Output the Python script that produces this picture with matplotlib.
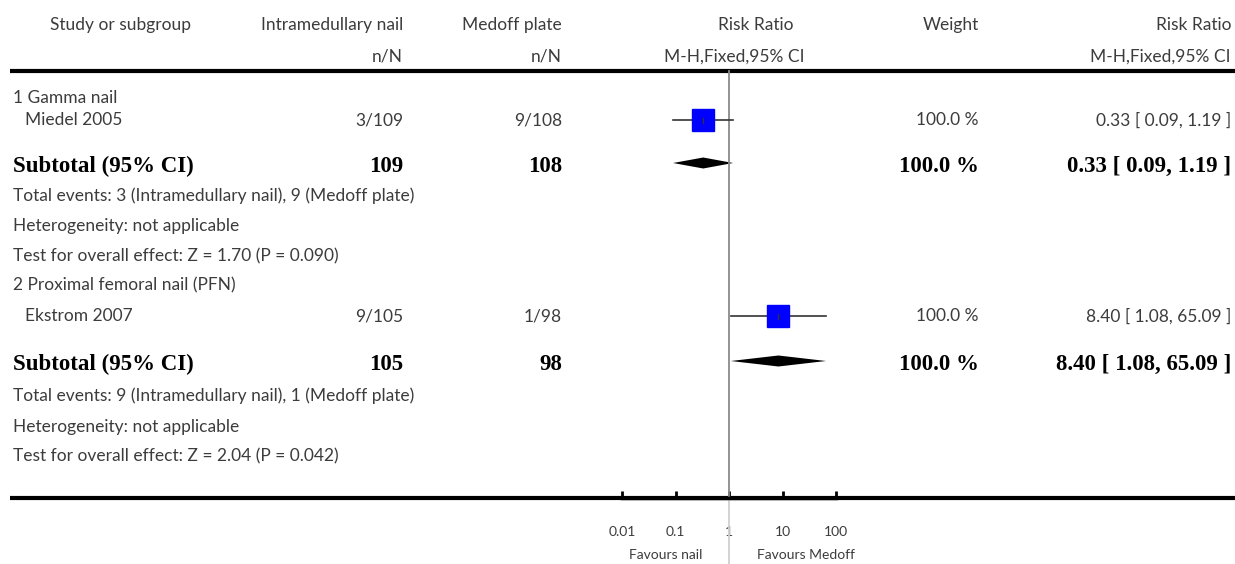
import matplotlib
matplotlib.use('Agg')
import matplotlib.pyplot as plt
from matplotlib.patches import Polygon

# data
groups = ['1 Gamma nail', '2 Proximal femoral nail (PFN)']
studies = ['Miedel 2005', 'Ekstrom 2007']
nail_events = [3, 9]
nail_total = [109, 105]
plate_events = [9, 1]
plate_total = [108, 98]
rr = [0.33, 8.40]
ci_low = [0.09, 1.08]
ci_high = [1.19, 65.09]
weights = [100.0, 100.0]
z_values = ['1.70', '2.04']
p_values = ['0.090', '0.042']
ticks = [0.01, 0.1, 1, 10, 100]
tick_labels = ['0.01', '0.1', '1', '10', '100']

W, H = 1235, 564
SANS = ['Lato', 'DejaVu Sans']
LIGHT = dict(family=SANS, weight='normal', color='#3c3c3c', fontsize=12.5)
BOLD = dict(family=['Liberation Serif', 'DejaVu Serif'], weight='bold', color='black', fontsize=16.5)

# row layout in pixels (y from top)
HEAD1, HEAD2, TOPLINE, BOTLINE = 25, 57, 71, 498
group_rows = [dict(title=98, study=120, sub=166, events=196, het=226, test=256),
              dict(title=285, study=316, sub=364, events=396, het=427, test=456)]
X_NAIL, X_PLATE, X_WEIGHT, X_RR = 403, 562, 979, 1231

fig = plt.figure(figsize=(W / 100, H / 100), dpi=100)
tax = fig.add_axes([0, 0, 1, 1])
tax.set_xlim(0, W)
tax.set_ylim(H, 0)
tax.axis('off')

fax = fig.add_axes([622 / W, 0, (836 - 622) / W, 1], zorder=2)
fax.patch.set_alpha(0)
fax.set_xscale('log')
fax.set_xlim(0.01, 100)
fax.set_ylim(H, 0)
for s in ['top', 'left', 'right']:
    fax.spines[s].set_visible(False)
fax.spines['bottom'].set_position(('data', BOTLINE))
fax.spines['bottom'].set_linewidth(2.5)
fax.set_yticks([])
fax.set_xticks(ticks)
fax.set_xticklabels(tick_labels, family=SANS, color='#3c3c3c')
fax.minorticks_off()
fax.tick_params(axis='x', direction='in', length=5, width=2, labelsize=10, pad=20)

# header
tax.text(50, HEAD1, 'Study or subgroup', ha='left', va='center', **LIGHT)
tax.text(X_NAIL, HEAD1, 'Intramedullary nail', ha='right', va='center', **LIGHT)
tax.text(X_NAIL, HEAD2, 'n/N', ha='right', va='center', **LIGHT)
tax.text(X_PLATE, HEAD1, 'Medoff plate', ha='right', va='center', **LIGHT)
tax.text(X_PLATE, HEAD2, 'n/N', ha='right', va='center', **LIGHT)
tax.text(793, HEAD1, 'Risk Ratio', ha='right', va='center', **LIGHT)
tax.text(804, HEAD2, 'M-H,Fixed,95% CI', ha='right', va='center', **LIGHT)
tax.text(X_WEIGHT, HEAD1, 'Weight', ha='right', va='center', **LIGHT)
tax.text(X_RR, HEAD1, 'Risk Ratio', ha='right', va='center', **LIGHT)
tax.text(X_RR, HEAD2, 'M-H,Fixed,95% CI', ha='right', va='center', **LIGHT)

tax.plot([10, W], [TOPLINE, TOPLINE], color='black', lw=3, solid_capstyle='butt')
tax.plot([10, W], [BOTLINE, BOTLINE], color='black', lw=3, solid_capstyle='butt')

# line of no effect
fax.plot([1, 1], [TOPLINE, BOTLINE], color='#8a8a8a', lw=1.3)
fax.plot([1, 1], [BOTLINE, H], color='#d0d0d0', lw=1.3)

for i, r in enumerate(group_rows):
    tax.text(13, r['title'], groups[i], ha='left', va='center', **LIGHT)
    tax.text(25, r['study'], studies[i], ha='left', va='center', **LIGHT)
    tax.text(X_NAIL, r['study'], f'{nail_events[i]}/{nail_total[i]}', ha='right', va='center', **LIGHT)
    tax.text(X_PLATE, r['study'], f'{plate_events[i]}/{plate_total[i]}', ha='right', va='center', **LIGHT)
    tax.text(X_WEIGHT, r['study'], f'{weights[i]:.1f} %', ha='right', va='center', **LIGHT)
    ci_txt = f'{rr[i]:.2f} [ {ci_low[i]:.2f}, {ci_high[i]:.2f} ]'
    tax.text(X_RR, r['study'], ci_txt, ha='right', va='center', **LIGHT)

    # study marker
    fax.plot([ci_low[i], ci_high[i]], [r['study'], r['study']], color='#333333', lw=1.2)
    fax.plot(rr[i], r['study'], marker='s', ms=15.8, color='#0000ff', mec='#0000ff')
    fax.plot([rr[i], rr[i]], [r['study'] - 2.5, r['study'] + 2.5], color='#333333', lw=1)

    # subtotal
    tax.text(13, r['sub'], 'Subtotal (95% CI)', ha='left', va='center', **BOLD)
    tax.text(X_NAIL, r['sub'], str(nail_total[i]), ha='right', va='center', **BOLD)
    tax.text(X_PLATE, r['sub'], str(plate_total[i]), ha='right', va='center', **BOLD)
    tax.text(X_WEIGHT, r['sub'], f'{weights[i]:.1f} %', ha='right', va='center', **BOLD)
    tax.text(X_RR, r['sub'], ci_txt, ha='right', va='center', **BOLD)
    yd = r['sub'] - 3
    fax.add_patch(Polygon([(ci_low[i], yd), (rr[i], yd - 5.5), (ci_high[i], yd), (rr[i], yd + 5.5)],
                          closed=True, color='black', lw=0))

    tax.text(13, r['events'], f'Total events: {nail_events[i]} (Intramedullary nail), '
             f'{plate_events[i]} (Medoff plate)', ha='left', va='center', **LIGHT)
    tax.text(13, r['het'], 'Heterogeneity: not applicable', ha='left', va='center', **LIGHT)
    tax.text(13, r['test'], f'Test for overall effect: Z = {z_values[i]} (P = {p_values[i]})',
             ha='left', va='center', **LIGHT)

fav = dict(LIGHT, fontsize=10)
tax.text(702, 555, 'Favours nail', ha='right', va='center', **fav)
tax.text(757, 555, 'Favours Medoff', ha='left', va='center', **fav)

fig.savefig('out.png', dpi=100)
